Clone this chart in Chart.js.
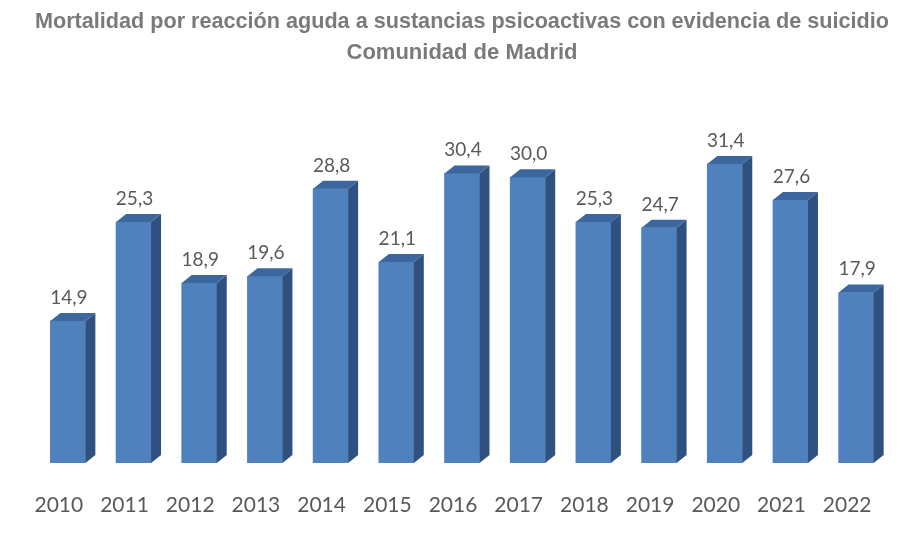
<html>
<head>
<style>
  body { margin: 0; background: #fff; }
</style>
</head>
<body>
<canvas id="myChart" width="919" height="538"></canvas>

<script src="https://cdn.jsdelivr.net/npm/chart.js"></script>

<script>
  const years = ['2010','2011','2012','2013','2014','2015','2016','2017','2018','2019','2020','2021','2022'];
  const deaths = [14.9, 25.3, 18.9, 19.6, 28.8, 21.1, 30.4, 30.0, 25.3, 24.7, 31.4, 27.6, 17.9];
  const titleLines = ['Mortalidad por reacción aguda a sustancias psicoactivas con evidencia de suicidio', 'Comunidad de Madrid'];

  // side + top face of each bar, and the value on top
  const bars3d = {
    id: 'bars3d',
    afterDatasetsDraw(chart) {
      const ctx = chart.ctx;
      const dx = 10, dy = 8;
      chart.getDatasetMeta(0).data.forEach((bar, i) => {
        const p = bar.getProps(['x', 'y', 'base', 'width'], true);
        const l = p.x - p.width / 2, r = p.x + p.width / 2;
        ctx.save();
        ctx.fillStyle = '#2f5180';
        ctx.beginPath();
        ctx.moveTo(r, p.y);
        ctx.lineTo(r + dx, p.y - dy);
        ctx.lineTo(r + dx, p.base - dy);
        ctx.lineTo(r, p.base);
        ctx.closePath();
        ctx.fill();
        ctx.fillStyle = '#3b679e';
        ctx.beginPath();
        ctx.moveTo(l, p.y);
        ctx.lineTo(l + dx, p.y - dy);
        ctx.lineTo(r + dx, p.y - dy);
        ctx.lineTo(r, p.y);
        ctx.closePath();
        ctx.fill();
        ctx.fillStyle = '#595959';
        ctx.font = '19px Lato';
        ctx.textAlign = 'center';
        ctx.textBaseline = 'alphabetic';
        ctx.fillText(deaths[i].toFixed(1).replace('.', ','), p.x + 1, p.y - 17);
        ctx.restore();
      });
    }
  };

  const myChart = new Chart(document.getElementById('myChart'), {
    type: 'bar',
    data: {
      labels: years,
      datasets: [{
        data: deaths,
        backgroundColor: '#4f81bd',
        borderWidth: 0,
        barThickness: 35
      }]
    },
    options: {
      responsive: false,
      animation: false,
      layout: { padding: { left: 35, right: 30, top: 0, bottom: 0 } },
      plugins: {
        legend: { display: false },
        tooltip: { enabled: false },
        title: {
          display: true,
          text: titleLines,
          color: '#7a7a7a',
          font: { family: "'Liberation Sans', Arial", size: 22, weight: 'bold', lineHeight: 1.4 },
          padding: { top: 7, bottom: 61 }
        }
      },
      scales: {
        x: {
          grid: { display: false, drawTicks: false },
          border: { display: false },
          ticks: { color: '#595959', font: { family: 'Lato', size: 21 }, padding: 30, labelOffset: -9, maxRotation: 0 },
          afterFit(scale) { scale.height = 75; }
        },
        y: {
          display: false,
          min: 0,
          max: 35
        }
      }
    },
    plugins: [bars3d]
  });
</script>

</body>
</html>
